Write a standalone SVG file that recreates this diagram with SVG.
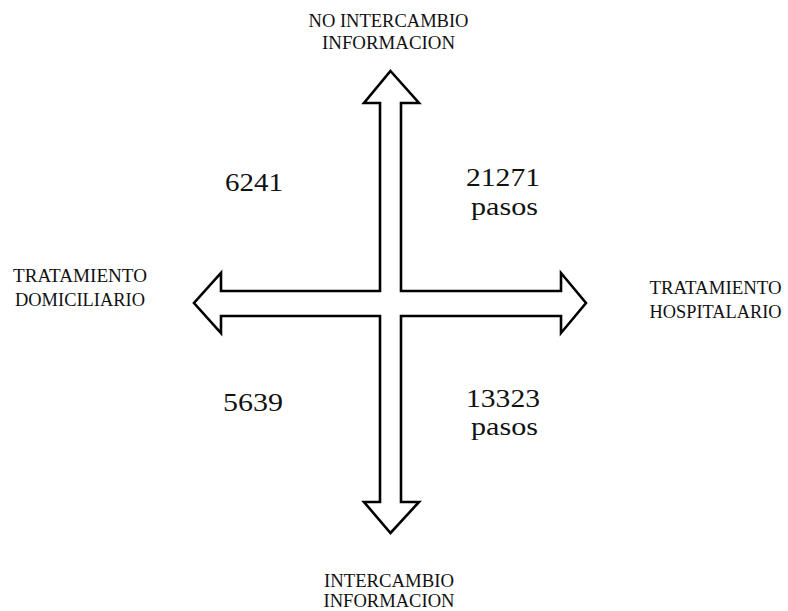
<svg xmlns="http://www.w3.org/2000/svg" width="788" height="611" viewBox="0 0 788 611">
<style>
.lbl{font-family:"Liberation Serif","DejaVu Serif",serif;font-size:18.8px;fill:#111;text-anchor:middle}
.num{font-family:"Liberation Serif","DejaVu Serif",serif;font-size:26px;fill:#111;text-anchor:middle}
.arrow{fill:#fff;stroke:#000;stroke-width:2.6;stroke-linejoin:miter;stroke-miterlimit:10}
</style>
<rect width="788" height="611" fill="#fff"/>
<g id="connectors">
<polygon class="arrow" points="390.5,71 419,103 401,103 401,291 561,291 561,273 586,303 561,333 561,316 401,316 401,502 419,502 390.5,533 364,502 380,502 380,316 221,316 221,333 194,303 221,273 221,291 380,291 380,103 364,103"/>
</g>
<g id="top">
<text class="lbl" x="388.5" y="27" textLength="160" lengthAdjust="spacingAndGlyphs">NO INTERCAMBIO</text>
<text class="lbl" x="388.5" y="49" textLength="133" lengthAdjust="spacingAndGlyphs">INFORMACION</text>
</g>
<g id="bottom">
<text class="lbl" x="389" y="587" textLength="130" lengthAdjust="spacingAndGlyphs">INTERCAMBIO</text>
<text class="lbl" x="389" y="607" textLength="131" lengthAdjust="spacingAndGlyphs">INFORMACION</text>
</g>
<g id="left">
<text class="lbl" x="80" y="282" textLength="134" lengthAdjust="spacingAndGlyphs">TRATAMIENTO</text>
<text class="lbl" x="80" y="306" textLength="130" lengthAdjust="spacingAndGlyphs">DOMICILIARIO</text>
</g>
<g id="right">
<text class="lbl" x="715.5" y="294" textLength="132" lengthAdjust="spacingAndGlyphs">TRATAMIENTO</text>
<text class="lbl" x="715.5" y="318" textLength="132" lengthAdjust="spacingAndGlyphs">HOSPITALARIO</text>
</g>
<g id="q-top-left">
<text class="num" x="254" y="191" textLength="58" lengthAdjust="spacingAndGlyphs">6241</text>
</g>
<g id="q-top-right">
<text class="num" x="503" y="186" textLength="74" lengthAdjust="spacingAndGlyphs">21271</text>
<text class="num" x="504.5" y="215" textLength="67" lengthAdjust="spacingAndGlyphs">pasos</text>
</g>
<g id="q-bottom-left">
<text class="num" x="253" y="411" textLength="60" lengthAdjust="spacingAndGlyphs">5639</text>
</g>
<g id="q-bottom-right">
<text class="num" x="503" y="407" textLength="74" lengthAdjust="spacingAndGlyphs">13323</text>
<text class="num" x="504.5" y="435" textLength="67" lengthAdjust="spacingAndGlyphs">pasos</text>
</g>
</svg>
